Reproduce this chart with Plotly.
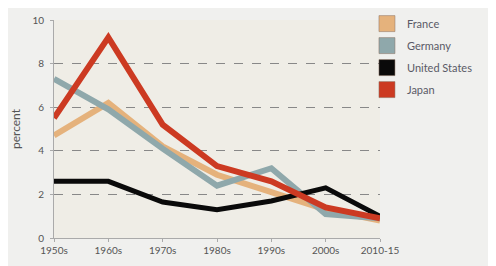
import plotly.graph_objects as go

decades = ["1950s", "1960s", "1970s", "1980s", "1990s", "2000s", "2010-15"]
france = [4.7, 6.2, 4.2, 2.9, 2.1, 1.3, 0.8]
germany = [7.3, 5.9, 4.1, 2.4, 3.2, 1.1, 0.9]
united_states = [2.6, 2.6, 1.65, 1.3, 1.7, 2.3, 1.0]
japan = [5.5, 9.2, 5.2, 3.3, 2.6, 1.4, 0.9]

series = [
    ("France", france, "#e5b27c", 6),
    ("Germany", germany, "#8fa8ab", 6),
    ("United States", united_states, "#0a0a0a", 5),
    ("Japan", japan, "#cc3a22", 6),
]

fig = go.Figure()
for name, vals, color, w in series:
    fig.add_trace(go.Scatter(x=decades, y=vals, mode="lines", name=name,
                             line=dict(color=color, width=w), showlegend=False))
for name, vals, color, w in series:
    fig.add_trace(go.Scatter(x=[decades[0]], y=[None], mode="markers", name=name,
                             legendgroup=name,
                             marker=dict(symbol="square", size=16, color=color,
                                         line=dict(color="#8a7060", width=0.5)),
                             showlegend=True))

fig.update_layout(
    width=496, height=266,
    margin=dict(l=46, r=124, t=12, b=36, autoexpand=False),
    paper_bgcolor="#f0f0ee",
    plot_bgcolor="#efede6",
    font=dict(family="Lato, Open Sans, sans-serif", size=10, color="#555555"),
    legend=dict(x=0.96, y=1.05, xanchor="left", yanchor="top",
                bgcolor="rgba(0,0,0,0)", font=dict(size=11, color="#5a5a66"),
                itemsizing="trace", tracegroupgap=3),
    xaxis=dict(range=[0, 6], showgrid=False, showline=True, linecolor="#aaaaaa",
               ticks="outside", ticklen=3, tickcolor="#aaaaaa", zeroline=False,
               automargin=False, tickfont=dict(size=10, color="#555555")),
    yaxis=dict(range=[0, 10], dtick=2, showgrid=True, gridcolor="#888888",
               griddash="dash", gridwidth=1, showline=True, linecolor="#aaaaaa",
               ticks="outside", ticklen=3, tickcolor="#aaaaaa", zeroline=False,
               automargin=False, ticklabelstandoff=4,
               title=dict(text="percent", font=dict(size=12, color="#555555"), standoff=12),
               tickfont=dict(size=10, color="#555555")),
)
fig.write_html("out.html")
